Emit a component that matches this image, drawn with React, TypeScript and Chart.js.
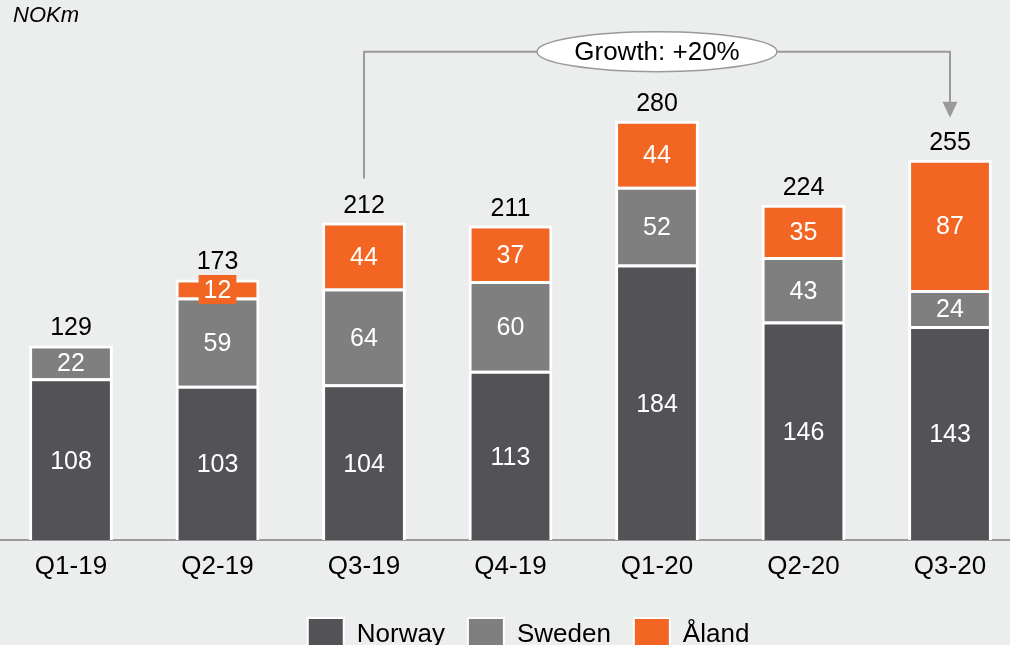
import React, { useEffect, useRef } from "react";
import { Chart, registerables } from "chart.js";

Chart.register(...registerables);

const categories = ["Q1-19", "Q2-19", "Q3-19", "Q4-19", "Q1-20", "Q2-20", "Q3-20"];
const norway = [108, 103, 104, 113, 184, 146, 143];
const sweden = [22, 59, 64, 60, 52, 43, 24];
const aland: (number | null)[] = [null, 12, 44, 37, 44, 35, 87];
const totals = [129, 173, 212, 211, 280, 224, 255];
const seriesNames = ["Norway", "Sweden", "Åland"];
const unitLabel = "NOKm";
const growthLabel = "Growth: +20%";
const growthFrom = 2;
const growthTo = 6;

const FONT = "'Liberation Sans', Arial, sans-serif";
const COLORS = ["#525257", "#7f7f7f", "#f26522"];
const BG = "#eceeed";
const LINE = "#9a9a9a";

const OFFSET_X = 15; // canvas shifted left by this

const labelsPlugin = {
  id: "valueLabels",
  afterDatasetsDraw(chart: any) {
    const ctx = chart.ctx;
    ctx.save();
    ctx.font = `25px ${FONT}`;
    ctx.textAlign = "center";
    ctx.textBaseline = "middle";
    const tops: number[] = categories.map(() => Infinity);
    const xs: number[] = categories.map(() => 0);
    chart.data.datasets.forEach((ds: any, di: number) => {
      const meta = chart.getDatasetMeta(di);
      meta.data.forEach((el: any, i: number) => {
        const v = ds.data[i];
        if (v == null) return;
        const p = el.getProps(["x", "y", "base"], true);
        xs[i] = p.x;
        tops[i] = Math.min(tops[i], p.y);
        const cy = (p.y + p.base) / 2;
        const h = Math.abs(p.base - p.y);
        const txt = String(v);
        if (h < 26) {
          const w = ctx.measureText(txt).width + 10;
          ctx.fillStyle = ds.backgroundColor;
          ctx.fillRect(p.x - w / 2, cy - 13.5, w, 29);
        }
        ctx.fillStyle = "#ffffff";
        ctx.fillText(txt, p.x, cy + 2.5);
      });
    });
    ctx.fillStyle = "#000000";
    totals.forEach((t, i) => {
      ctx.fillText(String(t), xs[i], tops[i] - 17);
    });
    chart.$totalTops = tops;
    ctx.restore();
  },
};

const decorPlugin = {
  id: "decor",
  afterDraw(chart: any) {
    const ctx = chart.ctx;
    const xS = chart.scales.x;
    const yS = chart.scales.y;
    const tops: number[] = chart.$totalTops;
    ctx.save();
    // unit title
    ctx.font = `italic 22px ${FONT}`;
    ctx.fillStyle = "#000";
    ctx.textAlign = "left";
    ctx.textBaseline = "alphabetic";
    ctx.fillText(unitLabel, 13 + OFFSET_X, 22);

    // growth connector
    const x1 = xS.getPixelForValue(growthFrom);
    const x2 = xS.getPixelForValue(growthTo);
    const yLine = yS.getPixelForValue(Math.max(...totals) * 1.165);
    const yStart = tops[growthFrom] - 44;
    const yTip = tops[growthTo] - 42;
    ctx.strokeStyle = LINE;
    ctx.lineWidth = 2;
    ctx.beginPath();
    ctx.moveTo(x1, yStart);
    ctx.lineTo(x1, yLine);
    ctx.lineTo(x2, yLine);
    ctx.lineTo(x2, yTip - 15);
    ctx.stroke();
    ctx.fillStyle = LINE;
    ctx.beginPath();
    ctx.moveTo(x2 - 7.5, yTip - 16);
    ctx.lineTo(x2 + 7.5, yTip - 16);
    ctx.lineTo(x2, yTip);
    ctx.closePath();
    ctx.fill();

    const cx = (x1 + x2) / 2;
    ctx.beginPath();
    ctx.ellipse(cx, yLine, 120, 20, 0, 0, Math.PI * 2);
    ctx.fillStyle = "#ffffff";
    ctx.fill();
    ctx.lineWidth = 1.5;
    ctx.strokeStyle = LINE;
    ctx.stroke();
    ctx.fillStyle = "#000";
    ctx.font = `26px ${FONT}`;
    ctx.textAlign = "center";
    ctx.textBaseline = "middle";
    ctx.fillText(growthLabel, cx, yLine + 1.5);

    // legend
    ctx.font = `26px ${FONT}`;
    ctx.textAlign = "left";
    ctx.textBaseline = "alphabetic";
    let lx = chart.chartArea.left + 309;
    const boxTop = 617;
    chart.data.datasets.forEach((ds: any) => {
      ctx.fillStyle = "#ffffff";
      ctx.fillRect(lx, boxTop, 38, 30);
      ctx.fillStyle = ds.backgroundColor;
      ctx.fillRect(lx + 2, boxTop + 2, 34, 30);
      ctx.fillStyle = "#000";
      const tx = lx + 50;
      ctx.fillText(ds.label, tx, 642);
      lx = tx + ctx.measureText(ds.label).width + 22;
    });
    ctx.restore();
  },
};

export default function App() {
  const ref = useRef<HTMLCanvasElement | null>(null);
  useEffect(() => {
    if (!ref.current) return;
    const chart = new Chart(ref.current, {
      type: "bar",
      data: {
        labels: categories,
        datasets: [
          { label: seriesNames[0], data: norway, backgroundColor: COLORS[0] },
          { label: seriesNames[1], data: sweden, backgroundColor: COLORS[1] },
          { label: seriesNames[2], data: aland, backgroundColor: COLORS[2] },
        ].map((d) => ({
          ...d,
          borderColor: "#ffffff",
          borderWidth: 3,
          categoryPercentage: 1,
          barPercentage: 0.572,
        })) as any,
      },
      options: {
        animation: false,
        responsive: false,
        layout: { padding: { left: 12.75, right: 1.75, top: 0, bottom: 0 } },
        plugins: { legend: { display: false }, tooltip: { enabled: false } },
        scales: {
          x: {
            stacked: true,
            grid: { display: false, drawTicks: false },
            border: { display: true, color: LINE, width: 2 },
            ticks: { color: "#000", font: { family: FONT, size: 26 }, padding: 11 },
            afterFit: (s: any) => {
              s.height = 105;
            },
          },
          y: {
            stacked: true,
            display: false,
            min: 0,
            max: 360.7,
          },
        },
      },
      plugins: [labelsPlugin, decorPlugin],
    });
    return () => chart.destroy();
  }, []);
  return (
    <div
      style={{
        position: "fixed",
        left: 0,
        top: 0,
        width: 1010,
        height: 645,
        overflow: "hidden",
        background: BG,
      }}
    >
      <canvas
        ref={ref}
        width={1040}
        height={645}
        style={{ position: "absolute", left: -OFFSET_X, top: 0, width: 1040, height: 645 }}
      />
    </div>
  );
}
